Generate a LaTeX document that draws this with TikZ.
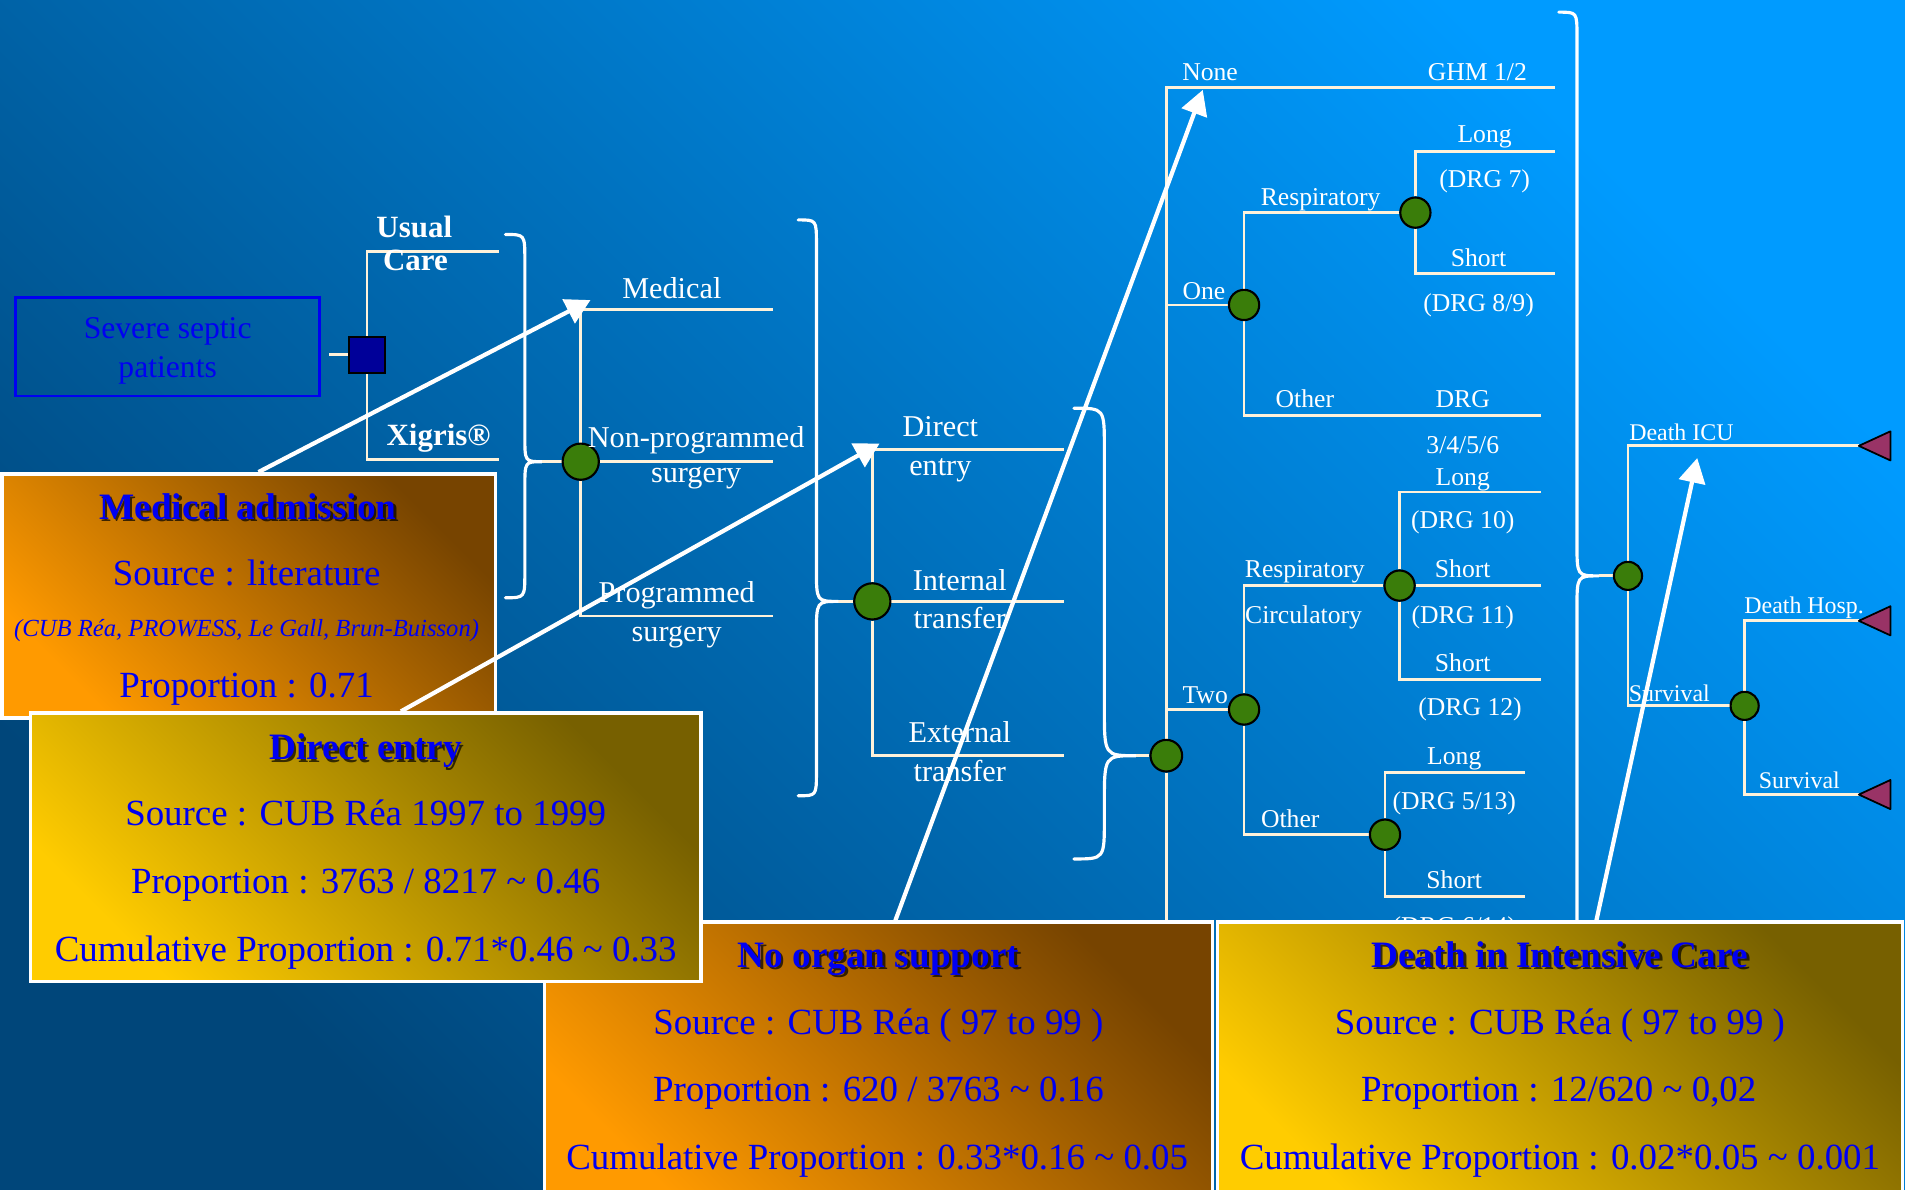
\documentclass[tikz,border=0pt]{standalone}
\usepackage{fontspec}
\setmainfont{Liberation Serif}
\usetikzlibrary{calc}
\usetikzlibrary{fit}
\usetikzlibrary{arrows.meta}
\pgfdeclarelayer{back}
\pgfdeclarelayer{lines}
\pgfsetlayers{back,lines,main}
\definecolor{bgdark}{HTML}{00467A}
\definecolor{bglight}{HTML}{009BFF}
\definecolor{twig}{HTML}{FFF2DA}
\definecolor{nodegreen}{HTML}{3A7D0A}
\definecolor{choiceblue}{HTML}{000099}
\definecolor{endmaroon}{HTML}{993366}
\definecolor{inkblue}{HTML}{0000F2}
\definecolor{orangelo}{HTML}{FF9A00}
\definecolor{orangehi}{HTML}{774400}
\definecolor{goldlo}{HTML}{FFCC00}
\definecolor{goldhi}{HTML}{776000}
% right curly brace: end x, body x, tip x, top y, tip y, bottom y
\newcommand{\curlybrace}[6]{%
  \draw[brace] (#1,#4) .. controls (#2,#4) .. (#2,{#4+1.3*(#2-#1)})
    -- (#2,{#5-1.5*(#3-#2)}) .. controls (#2,#5) .. (#3,#5)
    .. controls (#2,#5) .. (#2,{#5+1.5*(#3-#2)})
    -- (#2,{#6-1.3*(#2-#1)}) .. controls (#2,#6) .. (#1,#6);}

\begin{document}
\begin{tikzpicture}[x=0.012149cm, y=-0.012149cm,
  branch/.style={draw=twig, line width=0.8pt},
  brace/.style={draw=white, line width=0.9pt, line cap=round},
  pointer/.style={white, line width=1.2pt, -{Triangle[length=7pt,width=7.5pt]}},
  chance/.style={circle, draw=black, line width=0.6pt, fill=nodegreen, minimum size=10.3pt, inner sep=0pt},
  choice/.style={rectangle, draw=black, line width=0.6pt, fill=choiceblue, minimum size=10.3pt, inner sep=0pt},
  leafend/.style={fill=endmaroon, draw=black, line width=0.5pt, line join=round},
  lbl/.style={text=white, inner sep=0pt, text height=1.4ex, text depth=0pt, font=\fontsize{8.6}{10}\selectfont},
  slbl/.style={lbl, font=\fontsize{7.3}{8}\selectfont},
  tlbl/.style={lbl, font=\fontsize{6.8}{8}\selectfont},
  blbl/.style={lbl, font=\bfseries\fontsize{8.8}{10}\selectfont},
  infobox/.style={draw=white, line width=1pt, inner sep=0pt},
  orangebox/.style={infobox, top color=orangehi, bottom color=orangelo, shading angle=-45},
  goldbox/.style={infobox, top color=goldhi, bottom color=goldlo, shading angle=-45},
  boxtitle/.style={text=inkblue, inner sep=0pt, text height=1.4ex, text depth=0pt, font=\bfseries\fontsize{10.6}{12}\selectfont},
  titleshadow/.style={boxtitle, text=black, opacity=0.7},
  boxline/.style={text=inkblue, inner sep=0pt, text height=1.4ex, text depth=0pt, font=\fontsize{10.5}{12}\selectfont}]
\useasboundingbox (0,0) rectangle (1568,979);
\begin{pgfonlayer}{back}
  \shade[top color=bglight, bottom color=bgdark, shading angle=-45] (0,0) rectangle (1568,979);
\end{pgfonlayer}

		% Nodes
		\node[fit={(13,245) (263,326)}, draw=inkblue, line width=0.8pt, inner sep=0pt] (sev) {};
		\node[text=inkblue, align=center, inner sep=0pt, font=\fontsize{9}{11}\selectfont] (sevt) at (138,289) {Severe septic\\patients};
		\node[choice] (sq) at (302,292) {};
		\node[chance] (c1) at (478,380) {};
		\node[chance] (c2) at (718,495) {};
		\node[chance, minimum size=9pt] (c3) at (960,622) {};
		\node[chance, minimum size=8.6pt] (c4) at (1024,251) {};
		\node[chance, minimum size=8.6pt] (c5) at (1165,175) {};
		\node[chance, minimum size=8.6pt] (c7) at (1024,584) {};
		\node[chance, minimum size=8.6pt] (c8) at (1152,482) {};
		\node[chance, minimum size=8.6pt] (c9) at (1140,687) {};
		\node[chance, minimum size=8pt] (c10) at (1340,474) {};
		\node[chance, minimum size=8pt] (c11) at (1436,581) {};
		% Branch ends and brace tips
		\coordinate (uc) at (411,207);
		\coordinate (xg) at (411,378);
		\coordinate (med) at (636,255);
		\coordinate (nps) at (636,380);
		\coordinate (ps) at (636,507);
		\coordinate (de) at (876,370);
		\coordinate (it) at (876,495);
		\coordinate (et) at (876,622);
		\coordinate (none) at (1280,72);
		\coordinate (c3low) at (960,820);
		\coordinate (oth1) at (1268,342);
		\coordinate (l1) at (1280,125);
		\coordinate (s1) at (1280,225);
		\coordinate (l2) at (1268,405);
		\coordinate (s2) at (1268,482);
		\coordinate (s3) at (1268,559);
		\coordinate (l3) at (1255,636);
		\coordinate (s4) at (1255,738);
		\coordinate (dicu) at (1530,367);
		\coordinate (dh) at (1530,511);
		\coordinate (sv) at (1530,654);
		\coordinate (k1) at (446,380);
		\coordinate (k2) at (690,495);
		\coordinate (k3) at (935,622);
		\coordinate (k4) at (1316,474);
		% Branches
		\begin{pgfonlayer}{lines}
		\draw[branch] ($(sev.east |- sq)+(7,0)$) -- (sq);
		\draw[branch] (sq) |- (uc);
		\draw[branch] (sq) |- (xg);
		\draw[branch] (k1) -- (c1);
		\draw[branch] (c1) |- (med);
		\draw[branch] (c1) -- (nps);
		\draw[branch] (c1) |- (ps);
		\draw[branch] (k2) -- (c2);
		\draw[branch] (c2) |- (de);
		\draw[branch] (c2) -- (it);
		\draw[branch] (c2) |- (et);
		\draw[branch] (k3) -- (c3);
		\draw[branch] (c3) |- (none);
		\draw[branch] (c3) |- (c4);
		\draw[branch] (c3) |- (c7);
		\draw[branch] (c3) -- (c3low);
		\draw[branch] (c4) |- (c5);
		\draw[branch] (c4) |- (oth1);
		\draw[branch] (c5) |- (l1);
		\draw[branch] (c5) |- (s1);
		\draw[branch] (c7) |- (c8);
		\draw[branch] (c7) |- (c9);
		\draw[branch] (c8) |- (l2);
		\draw[branch] (c8) -- (s2);
		\draw[branch] (c8) |- (s3);
		\draw[branch] (c9) |- (l3);
		\draw[branch] (c9) |- (s4);
		\draw[branch] (k4) -- (c10);
		\draw[branch] (c10) |- (dicu);
		\draw[branch] (c10) |- (c11);
		\draw[branch] (c11) |- (dh);
		\draw[branch] (c11) |- (sv);
		% Braces
		\curlybrace{416}{432}{446}{193}{380}{492}
		\curlybrace{657}{672}{690}{181}{495}{655}
		\curlybrace{884}{909}{935}{336}{622}{707}
		\curlybrace{1283}{1298}{1316}{10}{474}{840}
		\end{pgfonlayer}
		% Outcomes
		\filldraw[leafend] (dicu) -- ++(26,-12) -- ++(0,24) -- cycle;
		\filldraw[leafend] (dh) -- ++(26,-12) -- ++(0,24) -- cycle;
		\filldraw[leafend] (sv) -- ++(26,-12) -- ++(0,24) -- cycle;
		% Labels
		\node[blbl] (lusual) at (341,186) {Usual};
		\node[blbl] (lcare) at (342,213) {Care};
		\node[blbl] (lxig) at (361,357) {Xigris®};
		\node[lbl] (lmed) at (553,236) {Medical};
		\node[lbl] (lnp1) at (573,359) {Non-programmed};
		\node[lbl] (lnp2) at (573,388) {surgery};
		\node[lbl] (lpr1) at (557,487) {Programmed};
		\node[lbl] (lpr2) at (557,519) {surgery};
		\node[lbl] (lde1) at (774,350) {Direct};
		\node[lbl] (lde2) at (774,382) {entry};
		\node[lbl] (lit1) at (790,477) {Internal};
		\node[lbl] (lit2) at (790,508) {transfer};
		\node[lbl] (let1) at (790,602) {External};
		\node[lbl] (let2) at (790,634) {transfer};
		\node[slbl] (lnone) at (996,57) {None};
		\node[slbl] (lghm) at (1216,57) {GHM 1/2};
		\node[slbl] (lone) at (991,237) {One};
		\node[slbl] (lresp1) at (1087,160) {Respiratory};
		\node[slbl] (llong1) at (1222,108) {Long};
		\node[slbl] (ldrg7) at (1222,145) {(DRG 7)};
		\node[slbl] (lshort1) at (1217,210) {Short};
		\node[slbl] (ldrg89) at (1217,247) {(DRG 8/9)};
		\node[slbl] (loth1) at (1074,326) {Other};
		\node[slbl] (ldrg) at (1204,326) {DRG};
		\node[slbl] (ldrg36) at (1204,364) {3/4/5/6};
		\node[slbl] (llong2) at (1204,390) {Long};
		\node[slbl] (ldrg10) at (1204,426) {(DRG 10)};
		\node[slbl] (lresp2) at (1074,466) {Respiratory};
		\node[slbl] (lcirc) at (1073,504) {Circulatory};
		\node[slbl] (lshort2) at (1204,466) {Short};
		\node[slbl] (ldrg11) at (1204,504) {(DRG 11)};
		\node[slbl] (lshort3) at (1204,543) {Short};
		\node[slbl] (ldrg12) at (1210,580) {(DRG 12)};
		\node[slbl] (ltwo) at (992,570) {Two};
		\node[slbl] (loth2) at (1062,672) {Other};
		\node[slbl] (llong3) at (1197,620) {Long};
		\node[slbl] (ldrg513) at (1197,657) {(DRG 5/13)};
		\node[slbl] (lshort4) at (1197,722) {Short};
		\node[slbl] (ldrg614) at (1197,760) {(DRG 6/14)};
		\node[tlbl] (licu) at (1384,353) {Death ICU};
		\node[tlbl] (lsurv1) at (1374,568) {Survival};
		\node[tlbl] (ldh) at (1485,496) {Death Hosp.};
		\node[tlbl] (lsurv2) at (1481,640) {Survival};
		% Boxes
		\node[orangebox, fit={(1.5,390) (408,591)}] (mabox) {};
		\node[titleshadow] (mat0) at (206,420) {Medical admission};
		\node[boxtitle] (mat) at (204,418) {Medical admission};
		\node[boxline] (mas) at (203,473) {Source : literature};
		\node[boxline, font=\itshape\fontsize{7}{8}\selectfont] (mar) at (203,515) {(CUB Réa, PROWESS, Le Gall, Brun-Buisson)};
		\node[boxline] (map) at (203,565) {Proportion : 0.71};
		\node[orangebox, fit={(448,759) (998,995)}] (nobox) {};
		\node[titleshadow] (not0) at (725,789) {No organ support};
		\node[boxtitle] (not) at (723,787) {No organ support};
		\node[boxline] (nos) at (723,842) {Source : CUB Réa ( 97 to 99 )};
		\node[boxline] (nop) at (723,897) {Proportion : 620 / 3763 \textasciitilde{} 0.16};
		\node[boxline] (noc) at (722,953) {Cumulative Proportion : 0.33*0.16 \textasciitilde{} 0.05};
		\node[goldbox, fit={(25,587) (577,808)}] (debox) {};
		\node[titleshadow] (det0) at (303,618) {Direct entry};
		\node[boxtitle] (det) at (301,616) {Direct entry};
		\node[boxline] (des) at (301,670) {Source : CUB Réa 1997 to 1999};
		\node[boxline] (dep) at (301,726) {Proportion : 3763 / 8217 \textasciitilde{} 0.46};
		\node[boxline] (dec) at (301,782) {Cumulative Proportion : 0.71*0.46 \textasciitilde{} 0.33};
		\node[goldbox, fit={(1002,759) (1566,995)}] (dibox) {};
		\node[titleshadow] (dit0) at (1286,789) {Death in Intensive Care};
		\node[boxtitle] (dit) at (1284,787) {Death in Intensive Care};
		\node[boxline] (dis) at (1284,842) {Source : CUB Réa ( 97 to 99 )};
		\node[boxline] (dip) at (1283,897) {Proportion : 12/620 \textasciitilde{} 0,02};
		\node[boxline] (dic) at (1284,953) {Cumulative Proportion : 0.02*0.05 \textasciitilde{} 0.001};
		% Arrows
		\coordinate (a1) at (486,247);
		\coordinate (a2) at (724,365);
		\coordinate (a3) at (990,74);
		\coordinate (a4) at (1397,377);
		\draw[pointer] ($(mabox.north)+(8,0)$) -- (a1);
		\draw[pointer] ($(debox.north)+(29,0)$) -- (a2);
		\draw[pointer] ($(nobox.north)+(14,0)$) -- (a3);
		\draw[pointer] ($(dibox.north)+(30,0)$) -- (a4);
\end{tikzpicture}
\end{document}
